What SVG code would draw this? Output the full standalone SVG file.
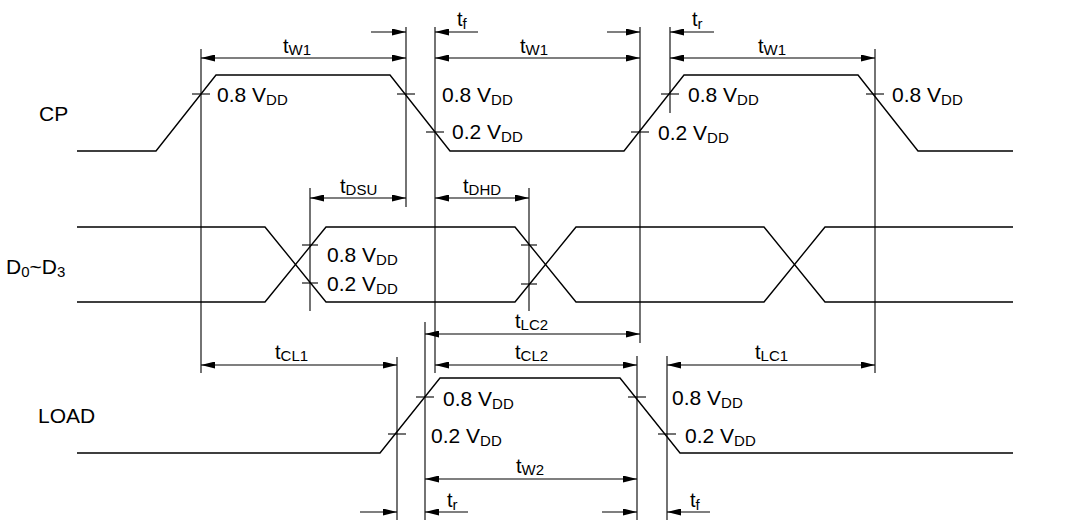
<svg xmlns="http://www.w3.org/2000/svg" width="1088" height="520" viewBox="0 0 1088 520">
<style>
  .wave{fill:none;stroke:#000;stroke-width:1.4;stroke-linejoin:miter}
  .ext{stroke:#000;stroke-width:1.1;fill:none}
  .tick{stroke:#000;stroke-width:1.1}
  .dim{stroke:#000;stroke-width:1.1;fill:none}
  .dim2{stroke:#000;stroke-width:1.1;fill:none;marker-start:url(#ah);marker-end:url(#ah)}
  .dim1{stroke:#000;stroke-width:1.1;fill:none;marker-end:url(#ah)}
  text{font-family:"Liberation Sans",Arial,sans-serif;fill:#000}
  .v{font-size:21px}
  .t{font-size:20px}
  .sig{font-size:21px}
  .s{font-size:15px}
</style>
<defs>
  <marker id="ah" viewBox="0 0 14 7" refX="14" refY="3.5" markerWidth="14" markerHeight="7" markerUnits="userSpaceOnUse" orient="auto-start-reverse">
    <path d="M0,0 L14,3.5 L0,7 z" fill="#000"/>
  </marker>
</defs>
<rect width="1088" height="520" fill="#fff"/>

<g id="labels">
  <text class="sig" x="39" y="121">CP</text>
  <text class="sig" x="6" y="274">D<tspan class="s" dy="3">0</tspan><tspan dy="-3">~D</tspan><tspan class="s" dy="3">3</tspan></text>
  <text class="sig" x="38" y="423">LOAD</text>
</g>

<g id="cp">
  <polyline class="wave" points="77,151 156,151 216,75 390,75 450,151 624,151 684,75 858,75 918,151 1013,151"/>
  <text class="v" x="217" y="102">0.8 V<tspan class="s" dy="2.5">DD</tspan></text>
  <text class="v" x="442" y="102">0.8 V<tspan class="s" dy="2.5">DD</tspan></text>
  <text class="v" x="452" y="139">0.2 V<tspan class="s" dy="2.5">DD</tspan></text>
  <text class="v" x="688" y="102">0.8 V<tspan class="s" dy="2.5">DD</tspan></text>
  <text class="v" x="658" y="140">0.2 V<tspan class="s" dy="2.5">DD</tspan></text>
  <text class="v" x="892" y="102">0.8 V<tspan class="s" dy="2.5">DD</tspan></text>
</g>

<g id="data">
  <polyline class="wave" points="77,227 265,227 326,302 515,302 576,227 764,227 825,302 1013,302"/>
  <polyline class="wave" points="77,302 265,302 326,227 515,227 576,302 764,302 825,227 1013,227"/>
  <text class="v" x="327" y="262">0.8 V<tspan class="s" dy="2.5">DD</tspan></text>
  <text class="v" x="327" y="291">0.2 V<tspan class="s" dy="2.5">DD</tspan></text>
</g>

<g id="load">
  <polyline class="wave" points="77,453 380,453 440,378 620,378 680,453 1013,453"/>
  <text class="v" x="443" y="406">0.8 V<tspan class="s" dy="2.5">DD</tspan></text>
  <text class="v" x="431" y="443">0.2 V<tspan class="s" dy="2.5">DD</tspan></text>
  <text class="v" x="672" y="405">0.8 V<tspan class="s" dy="2.5">DD</tspan></text>
  <text class="v" x="685" y="443">0.2 V<tspan class="s" dy="2.5">DD</tspan></text>
</g>

<g id="ticks">
  <line class="tick" x1="192" y1="94" x2="210" y2="94"/>
  <line class="tick" x1="397" y1="94" x2="415" y2="94"/>
  <line class="tick" x1="426" y1="132" x2="444" y2="132"/>
  <line class="tick" x1="631" y1="132" x2="649" y2="132"/>
  <line class="tick" x1="661" y1="94" x2="679" y2="94"/>
  <line class="tick" x1="866" y1="94" x2="884" y2="94"/>
  <line class="tick" x1="302" y1="245" x2="318" y2="245"/>
  <line class="tick" x1="302" y1="283" x2="318" y2="283"/>
  <line class="tick" x1="521" y1="245" x2="537" y2="245"/>
  <line class="tick" x1="521" y1="284" x2="537" y2="284"/>
  <line class="tick" x1="416" y1="397" x2="434" y2="397"/>
  <line class="tick" x1="388" y1="434" x2="406" y2="434"/>
  <line class="tick" x1="628" y1="397" x2="646" y2="397"/>
  <line class="tick" x1="658" y1="434" x2="676" y2="434"/>
</g>

<g id="connectors">
  <line class="ext" x1="201" y1="49" x2="201" y2="373"/>
  <line class="ext" x1="406" y1="27" x2="406" y2="207"/>
  <line class="ext" x1="435" y1="27" x2="435" y2="373"/>
  <line class="ext" x1="640" y1="27" x2="640" y2="343"/>
  <line class="ext" x1="670" y1="27" x2="670" y2="113"/>
  <line class="ext" x1="875" y1="49" x2="875" y2="373"/>
  <line class="ext" x1="310" y1="188" x2="310" y2="311"/>
  <line class="ext" x1="529" y1="188" x2="529" y2="311"/>
  <line class="ext" x1="425" y1="322" x2="425" y2="520"/>
  <line class="ext" x1="397" y1="357" x2="397" y2="520"/>
  <line class="ext" x1="637" y1="356" x2="637" y2="520"/>
  <line class="ext" x1="667" y1="356" x2="667" y2="520"/>

  <line class="dim2" x1="201" y1="58" x2="406" y2="58"/>
  <line class="dim2" x1="435" y1="58" x2="640" y2="58"/>
  <line class="dim2" x1="670" y1="58" x2="875" y2="58"/>
  <line class="dim2" x1="310" y1="198" x2="406" y2="198"/>
  <line class="dim2" x1="435" y1="198" x2="529" y2="198"/>
  <line class="dim2" x1="425" y1="334" x2="640" y2="334"/>
  <line class="dim2" x1="201" y1="365" x2="397" y2="365"/>
  <line class="dim2" x1="435" y1="365" x2="637" y2="365"/>
  <line class="dim2" x1="667" y1="365" x2="875" y2="365"/>
  <line class="dim2" x1="425" y1="479" x2="637" y2="479"/>

  <line class="dim1" x1="371" y1="32" x2="406" y2="32"/>
  <line class="dim1" x1="478" y1="32" x2="435" y2="32"/>
  <line class="dim1" x1="607" y1="32" x2="640" y2="32"/>
  <line class="dim1" x1="714" y1="32" x2="670" y2="32"/>
  <line class="dim1" x1="360" y1="512" x2="397" y2="512"/>
  <line class="dim1" x1="468" y1="512" x2="425" y2="512"/>
  <line class="dim1" x1="602" y1="512" x2="637" y2="512"/>
  <line class="dim1" x1="710" y1="512" x2="667" y2="512"/>
</g>

<g id="timing-labels">
  <text class="t" x="283" y="53">t<tspan class="s" dy="2">W1</tspan></text>
  <text class="t" x="520" y="53">t<tspan class="s" dy="2">W1</tspan></text>
  <text class="t" x="758" y="53">t<tspan class="s" dy="2">W1</tspan></text>
  <text class="t" x="457" y="26">t<tspan class="s" dy="2.5">f</tspan></text>
  <text class="t" x="692" y="26">t<tspan class="s" dy="2.5">r</tspan></text>
  <text class="t" x="340" y="193">t<tspan class="s" dy="2">DSU</tspan></text>
  <text class="t" x="463" y="193">t<tspan class="s" dy="2">DHD</tspan></text>
  <text class="t" x="515" y="328">t<tspan class="s" dy="2">LC2</tspan></text>
  <text class="t" x="275" y="359">t<tspan class="s" dy="2">CL1</tspan></text>
  <text class="t" x="515" y="359">t<tspan class="s" dy="2">CL2</tspan></text>
  <text class="t" x="755" y="359">t<tspan class="s" dy="2">LC1</tspan></text>
  <text class="t" x="516" y="473">t<tspan class="s" dy="2">W2</tspan></text>
  <text class="t" x="447" y="507">t<tspan class="s" dy="2.5">r</tspan></text>
  <text class="t" x="690" y="507">t<tspan class="s" dy="2.5">f</tspan></text>
</g>
</svg>
